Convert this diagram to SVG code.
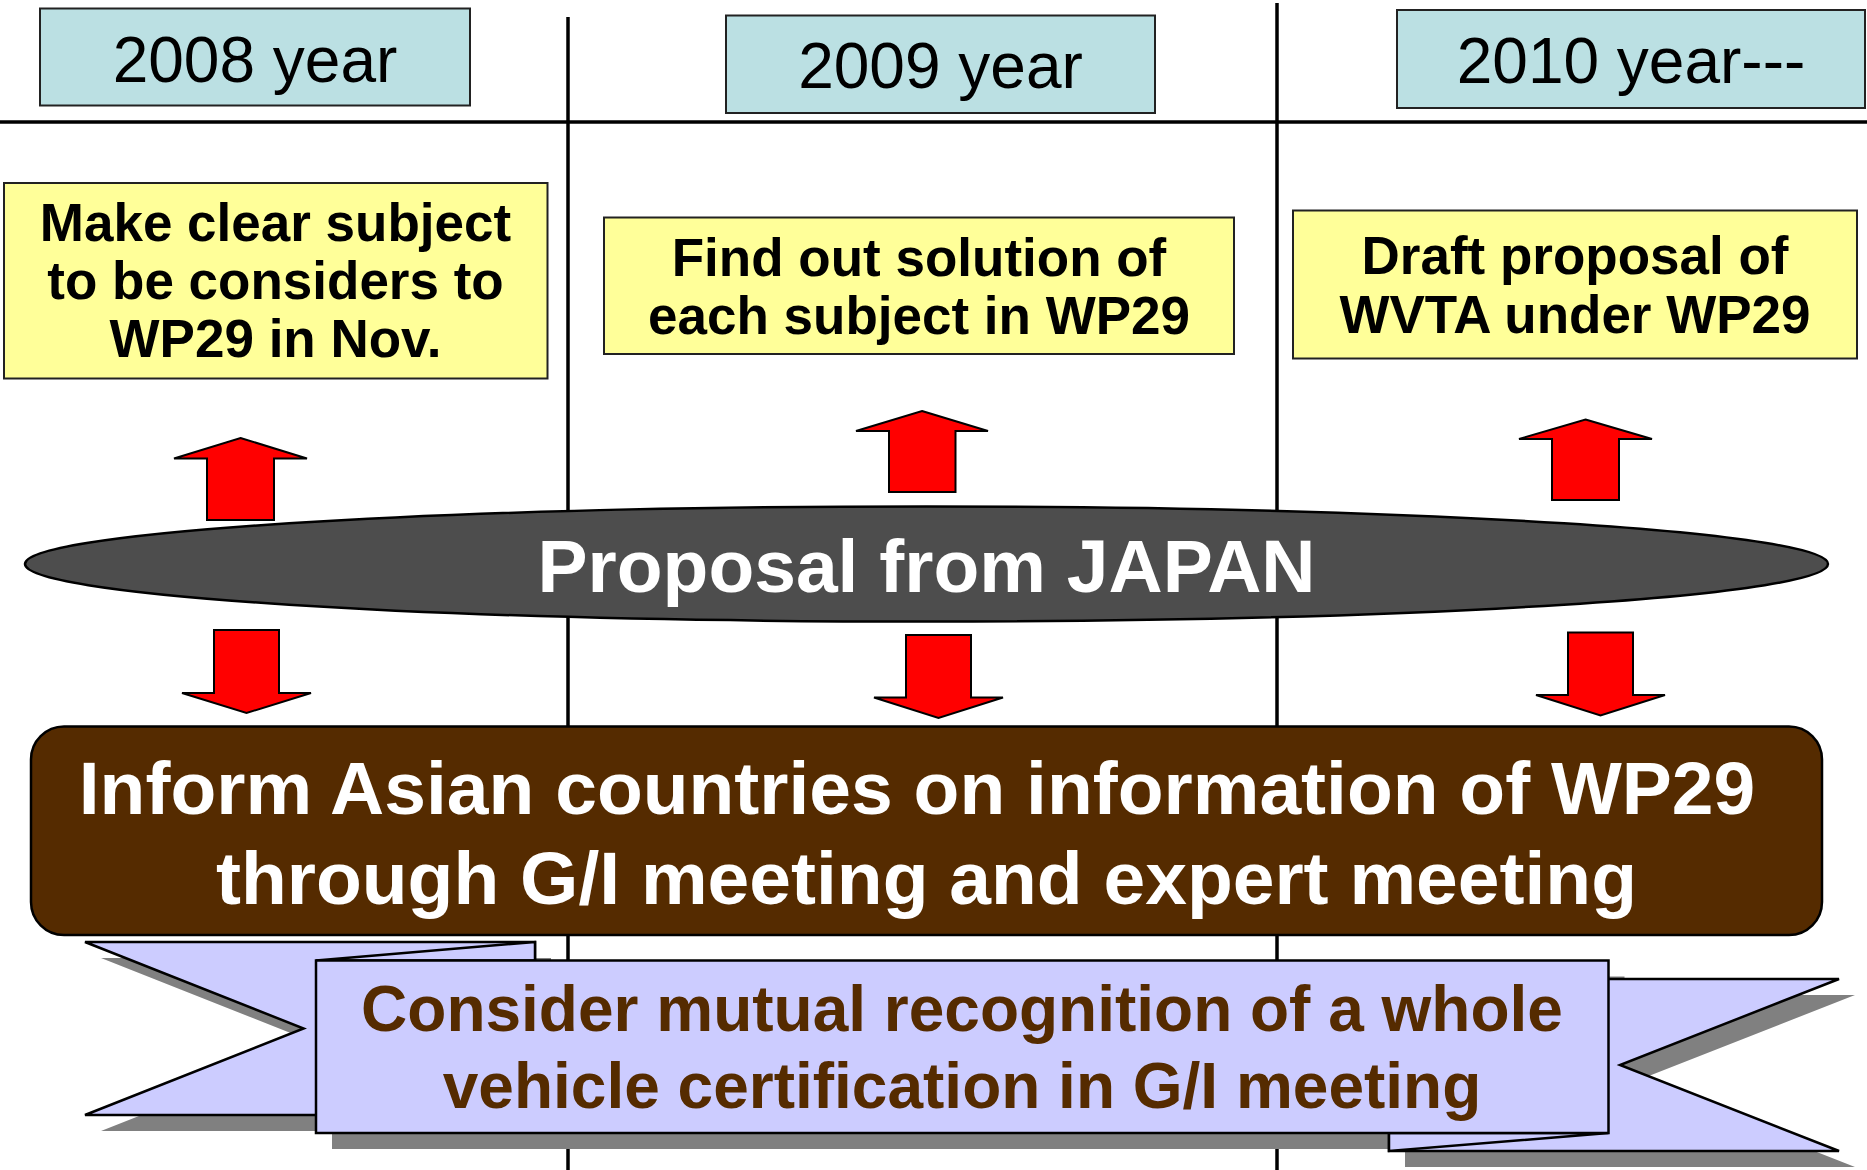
<svg xmlns="http://www.w3.org/2000/svg" width="1867" height="1170" viewBox="0 0 1867 1170">
<style>
.bg{fill:#ffffff}
.grid{stroke:#000;stroke-width:3.5;fill:none}
.year{fill:#BBE0E3;stroke:#222;stroke-width:2}
.yeart{font-family:"Liberation Sans",Arial,sans-serif;font-size:64px;fill:#000;text-anchor:middle}
.note{fill:#FFFF99;stroke:#222;stroke-width:2}
.notet{font-family:"Liberation Sans",Arial,sans-serif;font-size:53px;font-weight:bold;fill:#000;text-anchor:middle}
.arrow{fill:#FF0000;stroke:#000;stroke-width:2;stroke-linejoin:miter}
.ell{fill:#4D4D4D;stroke:#000;stroke-width:2.5}
.ellt{font-family:"Liberation Sans",Arial,sans-serif;font-size:75px;font-weight:bold;fill:#fff;text-anchor:middle}
.brown{fill:#552B00;stroke:#000;stroke-width:2.5}
.brownt{font-family:"Liberation Sans",Arial,sans-serif;font-size:75px;font-weight:bold;fill:#fff;text-anchor:middle}
.rib{fill:#CCCCFF;stroke:#000;stroke-width:2.5;stroke-linejoin:miter}
.shadow{fill:#808080}
.ribt{font-family:"Liberation Sans",Arial,sans-serif;font-size:64px;font-weight:bold;fill:#552B00;text-anchor:middle}
</style>
<rect class="bg" x="0" y="0" width="1867" height="1170"/>

<g id="grid">
<line class="grid" x1="0" y1="122" x2="1867" y2="122"/>
<line class="grid" x1="568" y1="17" x2="568" y2="1170"/>
<line class="grid" x1="1277" y1="3" x2="1277" y2="1170"/>
</g>

<g id="year-2008">
<rect class="year" x="40" y="8.5" width="430" height="97"/>
<text class="yeart" x="255" y="82">2008 year</text>
</g>
<g id="year-2009">
<rect class="year" x="726" y="15.5" width="429" height="97.5"/>
<text class="yeart" x="940.5" y="88">2009 year</text>
</g>
<g id="year-2010">
<rect class="year" x="1397" y="10" width="468" height="98"/>
<text class="yeart" x="1631" y="83">2010 year---</text>
</g>

<g id="task-2008">
<rect class="note" x="4" y="183" width="543.5" height="195.5"/>
<text class="notet" x="275.5" y="241">Make clear subject</text>
<text class="notet" x="275.5" y="299">to be considers to</text>
<text class="notet" x="275.5" y="357">WP29 in Nov.</text>
</g>
<g id="task-2009">
<rect class="note" x="604" y="217.5" width="630" height="136.5"/>
<text class="notet" x="919" y="276">Find out solution of</text>
<text class="notet" x="919" y="334">each subject in WP29</text>
</g>
<g id="task-2010">
<rect class="note" x="1293" y="210.5" width="564" height="148"/>
<text class="notet" x="1575" y="274">Draft proposal of</text>
<text class="notet" x="1575" y="333">WVTA under WP29</text>
</g>

<g id="proposal">
<ellipse class="ell" cx="926.5" cy="564" rx="901.5" ry="57.5"/>
<text class="ellt" x="926.5" y="592">Proposal from JAPAN</text>
</g>

<g id="inform">
<rect class="brown" x="31" y="726.5" width="1791" height="208.5" rx="33" ry="33"/>
<text class="brownt" x="917" y="814">Inform Asian countries on information of WP29</text>
<text class="brownt" x="926.5" y="904">through G/I meeting and expert meeting</text>
</g>

<g id="connectors">
<polygon class="arrow" points="240.5,438 307,458.5 274,458.5 274,520 207,520 207,458.5 174,458.5"/>
<polygon class="arrow" points="922,411 988,431 955.5,431 955.5,492 889,492 889,431 856,431"/>
<polygon class="arrow" points="1585.5,419.5 1652,439 1619,439 1619,500 1552,500 1552,439 1519,439"/>
<polygon class="arrow" points="214,630 279,630 279,693 311,693 246.5,713 182,693 214,693"/>
<polygon class="arrow" points="906,635 971,635 971,697.5 1003,697.5 938.5,718 874,697.5 906,697.5"/>
<polygon class="arrow" points="1568,632.5 1633,632.5 1633,695 1665,695 1600.5,715.5 1536,695 1568,695"/>
</g>

<g id="mutual-recognition">
<g transform="translate(16,16)">
<polygon class="shadow" points="85,942 535,942 535,1115 85,1115 303.6,1028.5"/>
<polygon class="shadow" points="1389,979 1839,979 1620,1065 1839,1151 1389,1151"/>
<rect class="shadow" x="316" y="960.5" width="1292.5" height="172.5"/>
</g>
<polygon class="rib" points="85,942 535,942 535,1115 85,1115 303.6,1028.5"/>
<polygon class="rib" points="1389,979 1839,979 1620,1065 1839,1151 1389,1151"/>
<polygon class="rib" points="316,960.5 535,942 535,960.5"/>
<polygon class="rib" points="1608.5,1133 1389,1151 1389,1133"/>
<rect class="rib" x="316" y="960.5" width="1292.5" height="172.5"/>
<text class="ribt" x="962" y="1031">Consider mutual recognition of a whole</text>
<text class="ribt" x="962" y="1108">vehicle certification in G/I meeting</text>
</g>
</svg>
